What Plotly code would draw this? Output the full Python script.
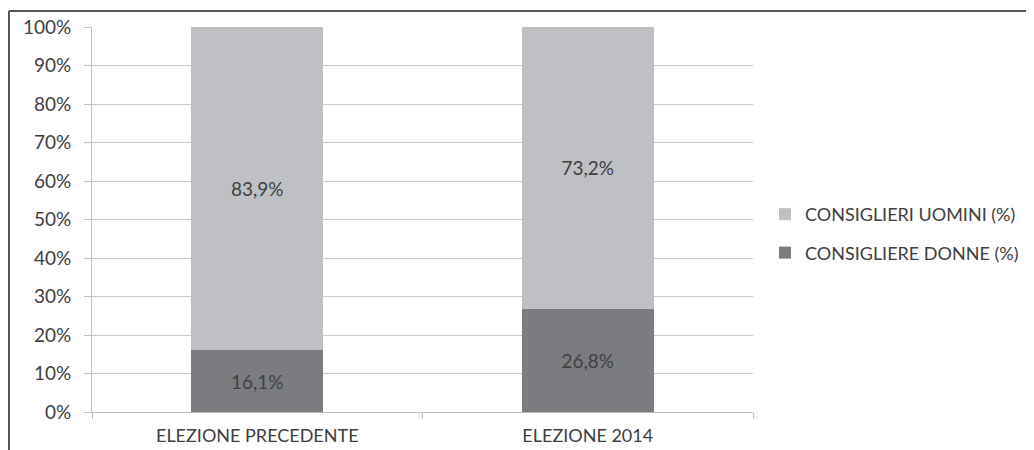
import plotly.graph_objects as go

categories = ["ELEZIONE PRECEDENTE", "ELEZIONE 2014"]
donne = [16.1, 26.8]
uomini = [83.9, 73.2]
series_names = ["CONSIGLIERE DONNE (%)", "CONSIGLIERI UOMINI (%)"]
y_ticks = list(range(0, 101, 10))
y_tick_labels = [f"{v}%" for v in y_ticks]

FONT = "Lato"
TXT = "#404040"
OFF = 8  # page body margin
W, H = 1034, 450
# plot area in screen pixels (reference)
SL, SR, ST, SB = 92, 753, 27, 412
L = SL - OFF
T = ST - OFF
R = W - (SR - OFF)
B = H - (SB - OFF)
pw, ph = W - L - R, H - T - B


def px_x(x):
    return (x - OFF - L) / pw


def px_y(y):
    return (H - B - (y - OFF)) / ph


fig = go.Figure()
fig.add_trace(go.Bar(
    x=categories, y=donne, name=series_names[0],
    marker=dict(color="#7b7c80", line=dict(width=0)),
    texttemplate="%{y:.1f}%", textposition="inside", insidetextanchor="middle",
    textfont=dict(family=FONT, size=19, color=TXT), textangle=0,
    legendgroup="b", legendrank=2,
))
fig.add_trace(go.Bar(
    x=categories, y=uomini, name=series_names[1],
    marker=dict(color="#bfc0c4", line=dict(width=0)),
    texttemplate="%{y:.1f}%", textposition="inside", insidetextanchor="middle",
    textfont=dict(family=FONT, size=19, color=TXT), textangle=0,
    legendgroup="a", legendrank=1,
))

fig.update_layout(
    width=W, height=H,
    margin=dict(l=L, r=R, t=T, b=B, autoexpand=False),
    barmode="stack", bargap=0.6,
    separators=",.",
    paper_bgcolor="white", plot_bgcolor="white",
    font=dict(family=FONT, color=TXT, size=18),
    showlegend=True,
    legend=dict(
        x=px_x(765), y=px_y(196), xanchor="left", yanchor="top",
        traceorder="grouped", tracegroupgap=12,
        font=dict(family=FONT, size=18, color=TXT),
        bgcolor="rgba(0,0,0,0)", itemwidth=30,
    ),
    xaxis=dict(
        type="category", range=[-0.5, 1.5],
        showline=True, linecolor="#bfbfbf", linewidth=1,
        ticks="outside", ticklen=6, tickcolor="#bfbfbf", tickson="boundaries",
        showgrid=False, tickfont=dict(family=FONT, size=18, color=TXT),
        ticklabelstandoff=7,
    ),
    yaxis=dict(
        range=[0, 100], tickmode="array", tickvals=y_ticks, ticktext=y_tick_labels,
        showline=True, linecolor="#bfbfbf", linewidth=1,
        ticks="outside", ticklen=7, tickcolor="#bfbfbf",
        showgrid=True, gridcolor="#c8c8c8", gridwidth=1.2,
        zeroline=False,
        tickfont=dict(family=FONT, size=19, color=TXT),
        ticklabelstandoff=9,
    ),
    shapes=[
        dict(type="line", xref="paper", yref="paper",
             x0=px_x(9), x1=px_x(9), y0=px_y(H + 20), y1=px_y(11),
             line=dict(color="#555555", width=2)),
        dict(type="line", xref="paper", yref="paper",
             x0=px_x(9), x1=px_x(W + 20), y0=px_y(11), y1=px_y(11),
             line=dict(color="#555555", width=2)),
    ],
)

fig.write_html("out.html")
